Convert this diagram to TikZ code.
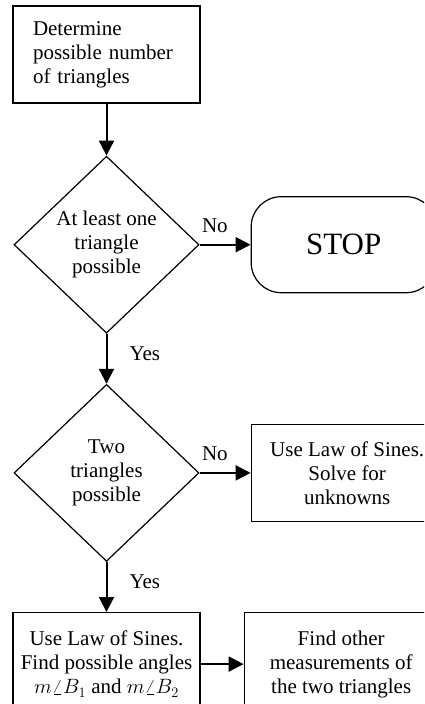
\documentclass[tikz,border=0pt]{standalone}
\usepackage{amsmath}
\usepackage{fontspec}
\setmainfont{Liberation Serif}
\usetikzlibrary{positioning,shapes.geometric,arrows.meta}

\begin{document}
\begin{tikzpicture}[
        font=\fontsize{21}{24}\selectfont,
        box/.style={draw, line width=1.2pt, minimum width=187pt, minimum height=97pt, align=center, inner sep=4pt},
        decision/.style={draw, diamond, line width=1.2pt, minimum width=185pt, minimum height=177pt, inner sep=0pt, align=center},
        terminal/.style={draw, line width=1.2pt, rounded corners=30pt, minimum width=185pt, minimum height=96pt},
        flow/.style={-{Triangle[length=15pt,width=15pt]}, line width=2pt},
        lbl/.style={inner sep=2pt}
    ]
        \path[use as bounding box, clip] (0,0) rectangle (424pt,-704pt);
        \node[box, text width=147pt, align=left, inner xsep=20pt] (determine) at (106.5pt,-54.5pt) {Determine\\possible number\\of triangles};
        \node[decision, below=52pt of determine] (onetri) {At least one\\triangle\\possible};
        \node[terminal, right=51pt of onetri, font=\fontsize{31}{36}\selectfont] (stop) {STOP};
        \node[decision, below=50pt of onetri] (twotri) {Two\\triangles\\possible};
        \node[box, minimum width=192pt, right=51pt of twotri] (solve) {Use Law of Sines.\\Solve for\\unknowns};
        \node[box, minimum height=103pt, below=50pt of twotri] (angles) {Use Law of Sines.\\Find possible angles\\$m\angle B_1$ and $m\angle B_2$};
        \node[box, minimum width=194pt, minimum height=103pt, right=43pt of angles] (others) {Find other\\measurements of\\the two triangles};
        \draw[flow] (determine) -- (onetri);
        \draw[flow] (onetri) -- node[lbl, above=9pt, pos=0.3] {No} (stop);
        \draw[flow] (onetri) -- node[lbl, right=20pt, pos=0.4] {Yes} (twotri);
        \draw[flow] (twotri) -- node[lbl, above=9pt, pos=0.3] {No} (solve);
        \draw[flow] (twotri) -- node[lbl, right=20pt, pos=0.4] {Yes} (angles);
        \draw[flow] (angles) -- (others);
    \end{tikzpicture}
\end{document}
